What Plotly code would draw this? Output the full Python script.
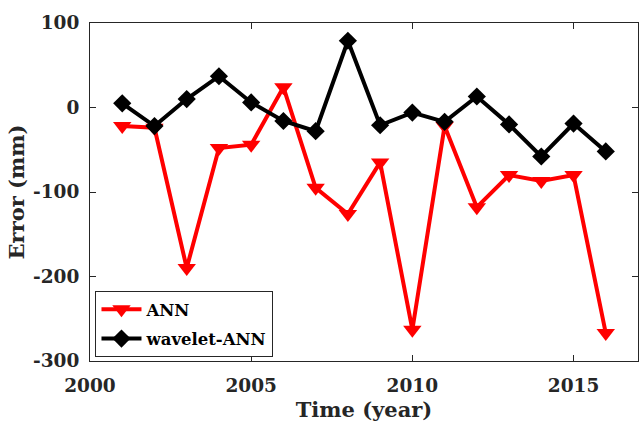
import plotly.graph_objects as go

years = list(range(2001, 2017))
ann = [-22, -24, -190, -48, -44, 24, -95, -126, -65, -263, -22, -118, -80, -87, -80, -267]
wavelet_ann = [5, -22, 10, 37, 6, -16, -28, 79, -21, -6, -17, 13, -20, -58, -19, -52]

x_ticks = [2000, 2005, 2010, 2015]
y_ticks = [-300, -200, -100, 0, 100]

font_family = "DejaVu Serif"
axis_color = "#262626"

fig = go.Figure()
fig.add_trace(go.Scatter(
    x=years, y=ann, name="<b>ANN</b>", mode="lines+markers", legendgroup="a",
    line=dict(color="#ff0000", width=4),
    marker=dict(symbol="triangle-down", size=16, color="#ff0000"),
))
fig.add_trace(go.Scatter(
    x=years, y=wavelet_ann, name="<b>wavelet-ANN</b>", mode="lines+markers", legendgroup="b",
    line=dict(color="#000000", width=4),
    marker=dict(symbol="diamond", size=14, color="#000000"),
))

fig.update_layout(
    width=639, height=426,
    margin=dict(l=90, r=1, t=23, b=65, autoexpand=False),
    plot_bgcolor="white", paper_bgcolor="white",
    font=dict(family=font_family, color=axis_color, size=18.5),
    showlegend=True,
    legend=dict(
        x=0.010, y=0.012, xanchor="left", yanchor="bottom",
        bgcolor="white", bordercolor="#262626", borderwidth=1,
        font=dict(family=font_family, size=16.5, color="#000000"),
        itemwidth=40, tracegroupgap=5,
    ),
    xaxis=dict(
        range=[2000, 2017], tickvals=x_ticks, ticktext=[f"<b>{v}</b>" for v in x_ticks],
        ticks="inside", ticklen=6, tickcolor=axis_color, showline=True, linecolor=axis_color,
        linewidth=1, mirror="ticks", showgrid=False, zeroline=False, automargin=False,
        ticklabelstandoff=8,
        title=dict(text="<b>Time (year)</b>", font=dict(size=21), standoff=7),
    ),
    yaxis=dict(
        range=[-300, 100], tickvals=y_ticks, ticktext=[f"<b>{v}</b>" for v in y_ticks],
        ticks="inside", ticklen=6, tickcolor=axis_color, showline=True, linecolor=axis_color,
        linewidth=1, mirror="ticks", showgrid=False, zeroline=False, automargin=False,
        ticklabelstandoff=6,
        title=dict(text="<b>Error (mm)</b>", font=dict(size=21), standoff=2),
    ),
)

fig.write_html("out.html", config={"displayModeBar": False},
               post_script="document.body.style.margin='0';")
